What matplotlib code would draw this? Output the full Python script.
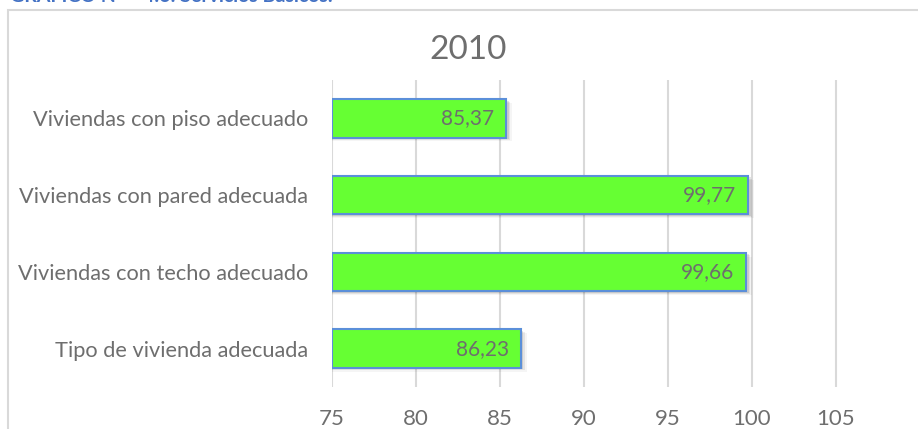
import matplotlib.pyplot as plt
import matplotlib.patches as mpatches

categorias = ["Tipo de vivienda adecuada", "Viviendas con techo adecuado",
              "Viviendas con pared adecuada", "Viviendas con piso adecuado"]
valores = [86.23, 99.66, 99.77, 85.37]
etiquetas = ["86,23", "99,66", "99,77", "85,37"]
ticks_x = [75, 80, 85, 90, 95, 100, 105]

W, H = 918, 429
plt.rcParams['font.family'] = ['Lato', 'DejaVu Sans']
gris = "#6E6E6E"

fig = plt.figure(figsize=(W / 100, H / 100), dpi=100)

# caption, mostly above the top edge
fig.text(10 / W, 1 - 2.5 / H, "GRÁFICO N°", color="#4472C4", fontsize=14,
         fontweight="bold", va="baseline")
fig.text(143 / W, 1 - 2.5 / H, "4.6: Servicios Básicos.", color="#4472C4",
         fontsize=14, fontweight="bold", va="baseline")

# chart frame
fig.patches.append(mpatches.Rectangle((8 / W, -0.1), 1.2, 1 - 10 / H + 0.1,
                                      transform=fig.transFigure, fill=False,
                                      edgecolor="#D9D9D9", linewidth=1.5))

left, right, top, bottom = 332, 918, 80, 387
ax = fig.add_axes([left / W, 1 - bottom / H, (right - left) / W, (bottom - top) / H])
x_max = 75 + (right - left) / 84 * 5
ax.set_xlim(75, x_max)
ax.set_ylim(-0.5, 3.5)

y = list(range(len(categorias)))
# soft shadow below each bar
for yi, v in zip(y, valores):
    for k, a in enumerate([0.10, 0.07, 0.04]):
        ax.add_patch(mpatches.Rectangle((75, yi - 0.25 - 0.02 - 0.015 * k), v - 75 + 0.15 + 0.1 * k,
                                        0.5, facecolor="black", alpha=a,
                                        edgecolor="none", zorder=1.5))
ax.barh(y, [v - 75 for v in valores], left=75, height=0.5, color="#66FF33",
        edgecolor="#5B8FD9", linewidth=1.5, zorder=3)
for yi, v, t in zip(y, valores, etiquetas):
    ax.text(v - 0.7, yi, t, ha="right", va="center", color=gris,
            fontsize=15, zorder=4)

ax.set_xticks(ticks_x)
ax.set_xticklabels([str(t) for t in ticks_x])
ax.set_yticks(y)
ax.set_yticklabels(categorias)
ax.tick_params(axis="both", length=0, labelsize=16, colors=gris)
ax.tick_params(axis="x", pad=16)
ax.tick_params(axis="y", labelsize=15.7, pad=17)
ax.grid(axis="x", color="#D9D9D9", linewidth=1.5, zorder=0)
ax.set_axisbelow(True)
for s in ax.spines.values():
    s.set_visible(False)

fig.text(468 / W, 1 - 50 / H, "2010", ha="center", va="center",
         fontsize=24, color=gris)

fig.savefig("out.png", dpi=100)
